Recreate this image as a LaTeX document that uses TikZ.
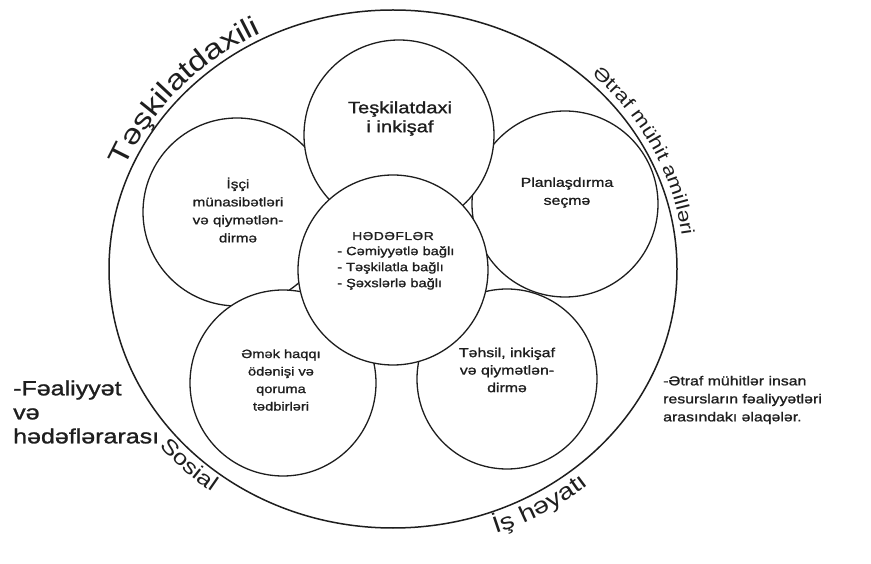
\documentclass[tikz,border=0pt]{standalone}
\usepackage{fontspec}
\setmainfont{Liberation Sans}[FakeStretch=1.22]
\newfontfamily\printface{Liberation Sans}[FakeStretch=1.22, FakeBold=1.2]
\usetikzlibrary{shapes.geometric,decorations.text}
\definecolor{ink}{RGB}{30,30,30}
\begin{document}
\begin{tikzpicture}[x=1pt,y=1pt,
  ring/.style={circle, draw=ink, line width=1.3pt, fill=white, inner sep=0pt},
  txt/.style={text=ink, align=center, inner sep=0pt},
  sz/.style args={#1/#2}{font=\printface\fontsize{#1}{#2}\selectfont},
  rim/.style args={#1/#2}{decorate, decoration={text along path, text align=center, text color=ink, text={|\fontsize{#1}{#1}\selectfont|#2}}}
]
\useasboundingbox (0,0) rectangle (871,563);
\fill[white] (0,0) rectangle (871,563);

% outer boundary of the system
\node[ellipse, draw=ink, line width=1.5pt, minimum width=568pt, minimum height=518pt, inner sep=0pt] (outer) at (393,294) {};

% functional areas around the goals
\node[ring, minimum size=188pt] (rel)  at (237,351) {};
\node[ring, minimum size=186pt] (plan) at (565,359) {};
\node[ring, minimum size=186pt] (pay)  at (283,180) {};
\node[ring, minimum size=180pt] (edu)  at (507,184) {};
\node[ring, minimum size=190pt] (dev)  at (399,428) {};
\node[ring, minimum size=190pt] (goal) at (393,293) {};

% circle captions
\node[txt, sz=16.5/19] (devT) at (400,444.5) {Teşkilatdaxi\\i inkişaf};
\node[txt, sz=12.5/18] (relT) at (238,353) {İşçi\\münasibətləri\\və qiymətlən-\\dirmə};
\node[txt, sz=13/18] (planT) at (567,370.5) {Planlaşdırma\\seçmə};
\node[txt, sz=11.5/16, anchor=base] (goalH) at (393,323) {\addfontfeatures{LetterSpace=4}HƏDƏFLƏR};
\node[txt, sz=12/16, align=left, anchor=west] (goalL) at (337,295) {- Cəmiyyətlə bağlı\\- Təşkilatla bağlı\\- Şəxslərlə bağlı};
\node[txt, sz=12/17.5] (payT) at (281,183) {Əmək haqqı\\ödənişi və\\qoruma\\tədbirləri};
\node[txt, sz=13/17.5] (eduT) at (507,193) {Təhsil, inkişaf\\və qiymətlən-\\dirmə};

% side notes
\node[txt, sz=20.5/24, align=left, anchor=west] (leftT) at (13,151) {-Fəaliyyət\\və\\hədəflərarası};
\node[txt, sz=13/18, align=left, anchor=west] (rightT) at (663,163) {-Ətraf mühitlər insan\\resursların fəaliyyətləri\\arasındakı əlaqələr.};

% labels running along the boundary
\path[rim={28/Təşkilatdaxili}]
  ([shift={(178:290pt and 265pt)}]outer.center) arc[start angle=178, end angle=98, x radius=290pt, y radius=265pt];
\path[rim={18.5/Ətraf mühit amilləri}]
  ([shift={(50:291pt and 266pt)}]outer.center) arc[start angle=50, end angle=4, x radius=291pt, y radius=266pt];
\path[rim={21/Sosial}]
  ([shift={(200:303pt and 278pt)}]outer.center) arc[start angle=200, end angle=252, x radius=303pt, y radius=278pt];
\path[rim={23/İş həyatı}]
  ([shift={(275:306pt and 281pt)}]outer.center) arc[start angle=275, end angle=325, x radius=306pt, y radius=281pt];
\end{tikzpicture}
\end{document}
